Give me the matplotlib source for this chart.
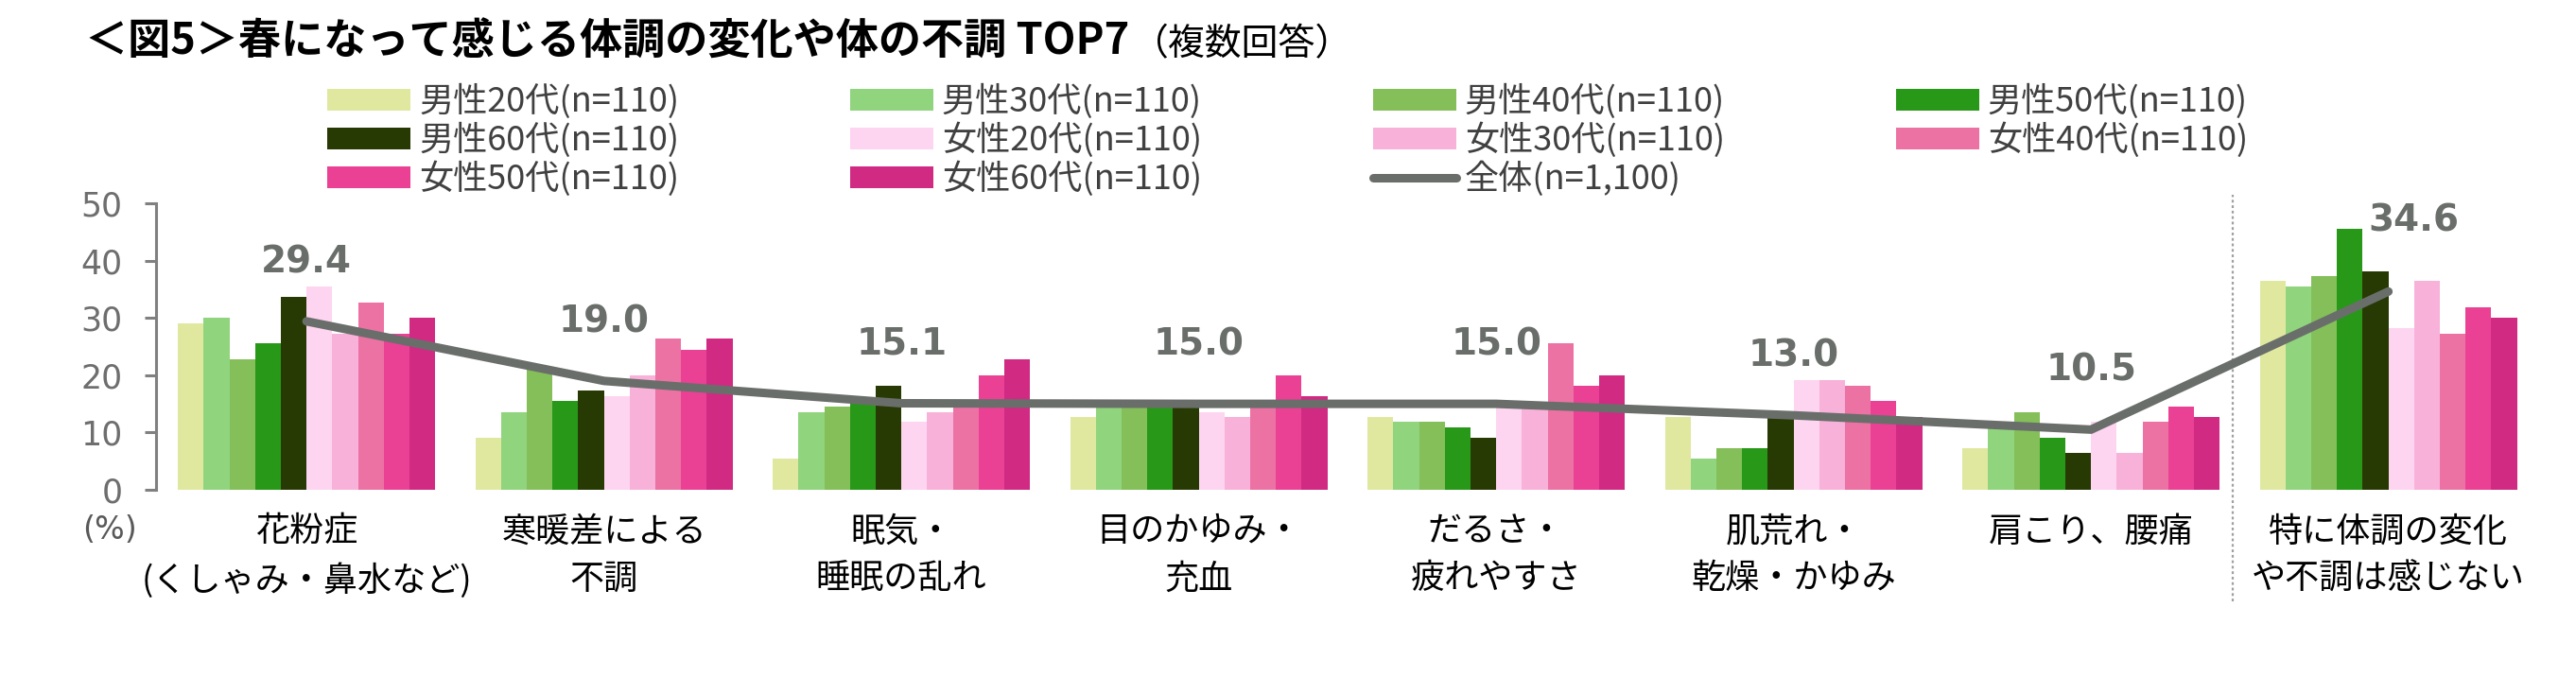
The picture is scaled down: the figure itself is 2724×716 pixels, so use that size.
import matplotlib
matplotlib.use("Agg")
import matplotlib.pyplot as plt
import numpy as np

plt.rcParams['font.family'] = ['Noto Sans CJK JP', 'DejaVu Sans']

categories = ["花粉症\n(くしゃみ・鼻水など)", "寒暖差による\n不調", "眠気・\n睡眠の乱れ",
              "目のかゆみ・\n充血", "だるさ・\n疲れやすさ", "肌荒れ・\n乾燥・かゆみ",
              "肩こり、腰痛", "特に体調の変化\nや不調は感じない"]

series_names = ["男性20代(n=110)", "男性30代(n=110)", "男性40代(n=110)", "男性50代(n=110)",
                "男性60代(n=110)", "女性20代(n=110)", "女性30代(n=110)", "女性40代(n=110)",
                "女性50代(n=110)", "女性60代(n=110)"]
total_name = "全体(n=1,100)"

m20 = [29.1, 9.1, 5.5, 12.7, 12.7, 12.7, 7.3, 36.4]
m30 = [30.0, 13.6, 13.6, 14.5, 11.8, 5.5, 11.8, 35.5]
m40 = [22.7, 20.9, 14.5, 15.5, 11.8, 7.3, 13.6, 37.3]
m50 = [25.5, 15.5, 15.5, 14.5, 10.9, 7.3, 9.1, 45.5]
m60 = [33.6, 17.3, 18.2, 15.5, 9.1, 12.7, 6.4, 38.2]
f20 = [35.5, 16.4, 11.8, 13.6, 15.5, 19.1, 11.8, 28.2]
f30 = [27.3, 20.0, 13.6, 12.7, 14.5, 19.1, 6.4, 36.4]
f40 = [32.7, 26.4, 15.5, 14.5, 25.5, 18.2, 11.8, 27.3]
f50 = [27.3, 24.5, 20.0, 20.0, 18.2, 15.5, 14.5, 31.8]
f60 = [30.0, 26.4, 22.7, 16.4, 20.0, 12.7, 12.7, 30.0]
total = [29.4, 19.0, 15.1, 15.0, 15.0, 13.0, 10.5, 34.6]

series = [m20, m30, m40, m50, m60, f20, f30, f40, f50, f60]
colors = ["#E0E8A0", "#90D47E", "#84BF5A", "#289818", "#283A04",
          "#FDD5F0", "#F8B1D8", "#EC72A4", "#EA4195", "#D12A83"]
line_color = "#6A6E6A"

fig = plt.figure(figsize=(27.24, 7.16), dpi=100)
ax = fig.add_axes([165/2724, 1-518/716, 2516/2724, 303/716])

x = np.arange(len(categories))
w = 0.0865
handles = []
for j, (vals, c, name) in enumerate(zip(series, colors, series_names)):
    b = ax.bar(x + (j - 4.5)*w, vals, width=w, color=c, linewidth=0, label=name, zorder=2)
    handles.append(b)

ln, = ax.plot(x, total, color=line_color, lw=6.5, solid_capstyle='round', zorder=3, label=total_name)

for i, v in enumerate(total):
    off = (0, 45) if i < len(total)-1 else (19, 54)
    ax.annotate(f"{v:.1f}", (x[i], v), xytext=off, textcoords='offset points',
                ha='center', va='center', fontsize=28, fontweight='bold', color=line_color,
                family='DejaVu Sans', zorder=4)

ax.set_xlim(-0.506, 7.494)
ax.set_ylim(0, 50)
ax.set_yticks(range(0, 51, 10))
ax.tick_params(axis='y', labelsize=25, labelcolor='#6e6e6e', color='#808080', length=8.5, width=2.2, pad=17)
for t in ax.get_yticklabels():
    t.set_family('DejaVu Sans')
ax.set_xticks(x)
ax.set_xticklabels(categories, fontsize=26, linespacing=1.5)
ax.tick_params(axis='x', length=0, pad=19)
for s in ['top', 'right', 'bottom']:
    ax.spines[s].set_visible(False)
ax.spines['left'].set_color('#808080')
ax.spines['left'].set_linewidth(2.2)

# separator
ax.plot([6.475, 6.475], [-0.39, 1.03], transform=ax.get_xaxis_transform(), clip_on=False,
        color='#a0a0a0', lw=1.6, ls=(0, (1.3, 1.3)))

fig.text(116/2724, 1-560/716, "(%)", ha='center', va='center', fontsize=24,
         color='#595959', family='DejaVu Sans')

# legend, row-wise order
order = [0, 4, 8, 1, 5, 9, 2, 6, 10, 3, 7]
all_h = handles + [ln]
all_l = series_names + [total_name]
leg = fig.legend([all_h[k] for k in order], [all_l[k] for k in order], ncol=4,
                 loc='upper left', bbox_to_anchor=(346/2724, 1-89/716), frameon=False,
                 fontsize=26, handlelength=2.44, handleheight=0.6, handletextpad=0.25,
                 columnspacing=5.0, labelspacing=0.1, borderpad=0, borderaxespad=0)
for t in leg.get_texts():
    t.set_color('#404040')

title = fig.text(90/2724, 1-45/716, "＜図5＞春になって感じる体調の変化や体の不調 TOP7",
                 ha='left', va='center', fontsize=32.5, fontweight='bold')
fig.canvas.draw()
bb = title.get_window_extent()
fig.text(bb.x1/fig.bbox.width + 0.001, 1-47/716, "（複数回答）", ha='left', va='center', fontsize=28)

fig.savefig("out.png", dpi=100)
